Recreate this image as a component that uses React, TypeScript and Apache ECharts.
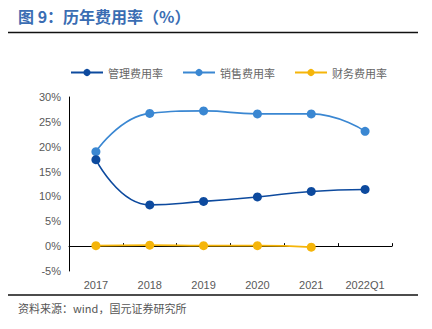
import React, { useEffect, useRef } from "react";
import * as echarts from "echarts";

const categories = ["2017", "2018", "2019", "2020", "2021", "2022Q1"];
const mgmtRate = [17.4, 8.3, 9.0, 9.9, 11.0, 11.4];
const salesRate = [19.0, 26.7, 27.2, 26.6, 26.6, 23.1];
const finRate: (number | null)[] = [0.1, 0.2, 0.1, 0.1, -0.2, null];
const seriesNames = ["管理费用率", "销售费用率", "财务费用率"];
const colors = ["#0d4a9e", "#3a87d2", "#f5b50a"];

export default function App() {
  const ref = useRef<HTMLDivElement>(null);
  useEffect(() => {
    if (!ref.current) return;
    const chart = echarts.init(ref.current, null, { renderer: "svg" });
    const mk = (i: number, data: (number | null)[]) => ({
      name: seriesNames[i],
      type: "line" as const,
      data,
      smooth: true,
      symbol: "circle",
      symbolSize: 9,
      itemStyle: { color: colors[i] },
      lineStyle: { color: colors[i], width: 1.6 },
      z: 3 - i + 2,
    });
    chart.setOption({
      animation: false,
      textStyle: { fontFamily: "'Liberation Sans', 'Noto Sans CJK SC', sans-serif" },
      graphic: [
        {
          type: "text",
          left: 18,
          top: 8,
          style: {
            text: "图 9：历年费用率（%）",
            fill: "#3a6db3",
            font: "bold 16px 'Noto Sans CJK SC'",
          },
        },
        {
          type: "line",
          shape: { x1: 0, y1: 32.5, x2: 418, y2: 32.5 },
          style: { stroke: "#111", lineWidth: 1.5 },
        },
        {
          type: "line",
          shape: { x1: 0, y1: 295, x2: 418, y2: 295 },
          style: { stroke: "#111", lineWidth: 1.5 },
        },
        {
          type: "text",
          left: 18,
          top: 302,
          style: {
            text: "资料来源：wind，国元证券研究所",
            fill: "#555",
            font: "11px 'Noto Sans CJK SC'",
          },
        },
      ],
      legend: {
        top: 62,
        left: 65,
        itemWidth: 32,
        itemHeight: 9,
        itemGap: 19,
        data: seriesNames,
        textStyle: { color: "#666", fontSize: 11, fontFamily: "'Noto Sans CJK SC'" },
      },
      grid: { left: 69, right: 40, top: 97, bottom: 58 },
      xAxis: {
        type: "category",
        data: categories,
        boundaryGap: true,
        axisLine: { onZero: true, lineStyle: { color: "#000", width: 1 } },
        axisTick: { show: true, inside: true, length: 3, lineStyle: { color: "#000" } },
        axisLabel: { color: "#595959", fontSize: 11, margin: 8 },
      },
      yAxis: {
        type: "value",
        min: -5,
        max: 30,
        interval: 5,
        splitLine: { show: false },
        axisLine: { show: true, lineStyle: { color: "#000", width: 1 } },
        axisTick: { show: false },
        axisLabel: { color: "#595959", fontSize: 11, formatter: "{value}%", margin: 8 },
      },
      series: [mk(0, mgmtRate), mk(1, salesRate), mk(2, finRate)],
    });
    return () => chart.dispose();
  }, []);
  return <div ref={ref} style={{ width: 432, height: 329, margin: -8 }} />;
}
